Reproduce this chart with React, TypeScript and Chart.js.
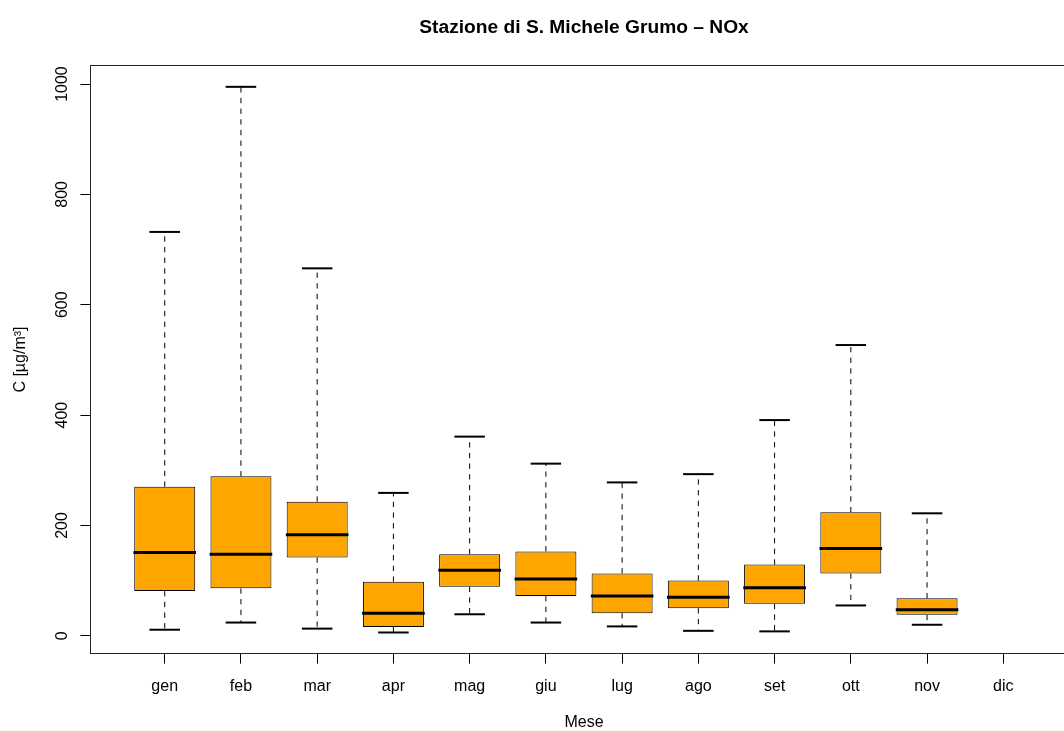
import React, { useEffect, useRef } from 'react';
import { Chart, registerables } from 'chart.js';

Chart.register(...registerables);

const months = ['gen', 'feb', 'mar', 'apr', 'mag', 'giu', 'lug', 'ago', 'set', 'ott', 'nov', 'dic'];
const whiskerLow: (number | null)[] = [11, 24, 13, 6, 39, 24, 17, 9, 8, 55, 20, null];
const q1: (number | null)[] = [81, 86, 142, 16, 89, 72, 41, 50, 58, 113, 38, null];
const median: (number | null)[] = [151, 148, 183, 41, 119, 103, 72, 70, 87, 158, 47, null];
const q3: (number | null)[] = [270, 289, 243, 98, 148, 153, 113, 100, 129, 224, 68, null];
const whiskerHigh: (number | null)[] = [732, 995, 666, 259, 361, 312, 278, 293, 391, 527, 222, null];
const yTicks = [0, 200, 400, 600, 800, 1000];

const chartTitle = 'Stazione di S. Michele Grumo – NOx';
const yTitle = 'C [µg/m³]';
const xTitle = 'Mese';

const FAMILY = '"Liberation Sans", Arial, Helvetica, sans-serif';
const ORANGE = '#FFA500';

const present = months.map((_, i) => i).filter((i) => median[i] != null);

const boxExtras = {
  id: 'boxExtras',
  beforeDatasetsDraw(chart: any) {
    const { ctx } = chart;
    const x = chart.scales.x;
    const y = chart.scales.y;
    const meta = chart.getDatasetMeta(0);
    ctx.save();
    ctx.strokeStyle = '#000';
    meta.data.forEach((bar: any, k: number) => {
      const i = present[k];
      const cx = x.getPixelForValue(i + 1);
      const w = bar.width;
      ctx.lineCap = 'butt';
      ctx.setLineDash([5.33, 5.33]);
      ctx.lineWidth = 1;
      ctx.beginPath();
      ctx.moveTo(cx, y.getPixelForValue(q3[i]));
      ctx.lineTo(cx, y.getPixelForValue(whiskerHigh[i]));
      ctx.stroke();
      ctx.beginPath();
      ctx.moveTo(cx, y.getPixelForValue(q1[i]));
      ctx.lineTo(cx, y.getPixelForValue(whiskerLow[i]));
      ctx.stroke();
      ctx.setLineDash([]);
      ctx.lineWidth = 2;
      const capHalf = w / 4;
      [whiskerHigh[i], whiskerLow[i]].forEach((v) => {
        const py = y.getPixelForValue(v);
        ctx.beginPath();
        ctx.moveTo(cx - capHalf, py);
        ctx.lineTo(cx + capHalf, py);
        ctx.stroke();
      });
    });
    ctx.restore();
  },
  afterDatasetsDraw(chart: any) {
    const { ctx } = chart;
    const x = chart.scales.x;
    const y = chart.scales.y;
    const meta = chart.getDatasetMeta(0);
    ctx.save();
    ctx.strokeStyle = '#000';
    ctx.lineWidth = 3;
    ctx.lineCap = 'butt';
    meta.data.forEach((bar: any, k: number) => {
      const i = present[k];
      const cx = x.getPixelForValue(i + 1);
      const half = bar.width / 2 + 0.8;
      const py = y.getPixelForValue(median[i]);
      ctx.beginPath();
      ctx.moveTo(cx - half, py);
      ctx.lineTo(cx + half, py);
      ctx.stroke();
    });
    ctx.restore();
  },
  afterDraw(chart: any) {
    const { ctx, chartArea } = chart;
    const { left, right, top, bottom } = chartArea;
    ctx.save();
    ctx.strokeStyle = '#222';
    ctx.lineWidth = 1;
    ctx.strokeRect(Math.round(left) + 0.5, Math.round(top) + 0.5, Math.round(right) - Math.round(left), Math.round(bottom) - Math.round(top) - 1);
    ctx.restore();
  },
};

export default function App() {
  const canvasRef = useRef<HTMLCanvasElement | null>(null);

  useEffect(() => {
    document.body.style.margin = '0';
    document.body.style.overflow = 'hidden';
    const canvas = canvasRef.current;
    if (!canvas) return;

    const tickFont = { size: 16, family: FAMILY };
    const gridOpts = {
      display: true,
      drawOnChartArea: false,
      drawTicks: true,
      tickLength: 9.6,
      color: '#000',
      lineWidth: 1,
      offset: false,
    };

    const chart = new Chart(canvas, {
      type: 'bar',
      data: {
        datasets: [
          {
            data: present.map((i) => ({ x: i + 1, y: [q1[i] as number, q3[i] as number] })) as any,
            backgroundColor: ORANGE,
            borderColor: '#000',
            borderWidth: 1,
            borderSkipped: false,
            barPercentage: 0.8,
            categoryPercentage: 1,
          },
        ],
      },
      options: {
        animation: false,
        responsive: false,
        devicePixelRatio: 1,
        layout: { padding: { left: 0, right: 22, top: 0, bottom: 0 } },
        plugins: {
          legend: { display: false },
          tooltip: { enabled: false },
          title: {
            display: true,
            text: chartTitle,
            fullSize: false,
            color: '#000',
            font: { size: 19.2, weight: 'bold', family: FAMILY, lineHeight: 1.2 },
            padding: { top: 16, bottom: 26 },
          },
        },
        scales: {
          x: {
            type: 'linear',
            min: 0.02,
            max: 12.98,
            offset: false,
            afterBuildTicks: (s: any) => {
              s.ticks = months.map((_, i) => ({ value: i + 1 }));
            },
            afterFit: (s: any) => {
              s.height = 77;
            },
            ticks: {
              autoSkip: false,
              minRotation: 0,
              maxRotation: 0,
              padding: 13.5,
              color: '#000',
              font: tickFont,
              callback: (v: any) => months[Math.round(Number(v)) - 1] ?? '',
            },
            grid: gridOpts,
            border: { display: false },
            title: {
              display: true,
              text: xTitle,
              color: '#000',
              font: { size: 16, family: FAMILY, lineHeight: 1 },
              padding: { top: 0, bottom: 0 },
            },
          },
          y: {
            type: 'linear',
            min: -33,
            max: 1034.5,
            afterBuildTicks: (s: any) => {
              s.ticks = yTicks.map((v) => ({ value: v }));
            },
            afterFit: (s: any) => {
              s.width = 90;
            },
            ticks: {
              minRotation: 90,
              maxRotation: 90,
              crossAlign: 'center',
              padding: 0,
              color: '#000',
              font: tickFont,
              callback: (v: any) => String(v),
            },
            grid: gridOpts,
            border: { display: false },
            title: {
              display: true,
              text: yTitle,
              color: '#000',
              font: { size: 16, family: FAMILY, lineHeight: 1 },
              padding: { top: 13, bottom: 0 },
            },
          },
        },
      } as any,
      plugins: [boxExtras],
    });

    return () => {
      chart.destroy();
    };
  }, []);

  return (
    <div style={{ width: 1064, height: 731, overflow: 'hidden', background: '#fff' }}>
      <canvas ref={canvasRef} width={1100} height={731} style={{ display: 'block' }} />
    </div>
  );
}
